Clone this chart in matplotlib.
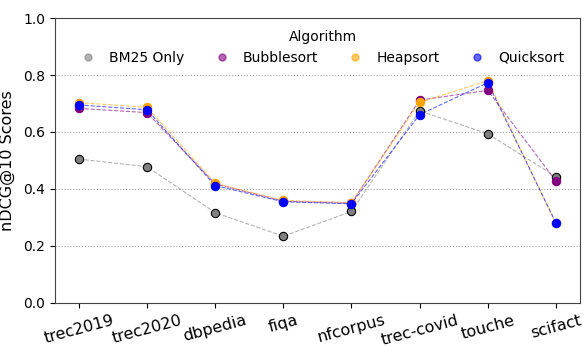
import matplotlib.pyplot as plt
from matplotlib.lines import Line2D

datasets = ['trec2019', 'trec2020', 'dbpedia', 'fiqa', 'nfcorpus', 'trec-covid', 'touche', 'scifact']
bm25 = [0.505, 0.478, 0.317, 0.234, 0.321, 0.674, 0.594, 0.443]
bubblesort = [0.683, 0.668, 0.418, 0.357, 0.350, 0.712, 0.746, 0.428]
heapsort = [0.703, 0.687, 0.420, 0.360, 0.352, 0.704, 0.780, 0.280]
quicksort = [0.695, 0.678, 0.412, 0.355, 0.348, 0.661, 0.773, 0.281]

series = [
    ('BM25 Only', bm25, 'gray'),
    ('Bubblesort', bubblesort, 'purple'),
    ('Heapsort', heapsort, 'orange'),
    ('Quicksort', quicksort, 'blue'),
]

fig, ax = plt.subplots(figsize=(5.85, 3.47), dpi=100)
x = range(len(datasets))

handles = []
for name, vals, color in series:
    ax.plot(x, vals, linestyle='--', color=color, alpha=0.6, linewidth=0.8, zorder=2)
    edge = 'black' if name == 'BM25 Only' else color
    ax.scatter(x, vals, color=color, edgecolor=edge, s=36, linewidth=0.8, zorder=3)
    handles.append(Line2D([], [], marker='o', linestyle='', color=color, alpha=0.6,
                          markersize=5, label=name))

ax.set_xticks(list(x))
ax.set_xticklabels(datasets, rotation=15, fontsize=11.5)
ax.set_ylim(0, 1.0)
ax.set_xlim(-0.35, 7.35)
ax.set_yticks([0, 0.2, 0.4, 0.6, 0.8, 1.0])
ax.tick_params(axis='y', labelsize=10)
ax.set_ylabel('nDCG@10 Scores', fontsize=11.5, labelpad=6)
ax.yaxis.grid(True, linestyle=':', color='gray', alpha=0.7)
ax.set_axisbelow(True)
for s in ax.spines.values():
    s.set_color('#444444')

ax.legend(handles=handles, title='Algorithm', ncol=4, loc='upper center',
          frameon=False, fontsize=10, title_fontsize=10, bbox_to_anchor=(0.51, 1.003),
          handlelength=1.0, handletextpad=1.0, columnspacing=2.2)

plt.subplots_adjust(left=0.094, right=0.991, top=0.948, bottom=0.127)
plt.savefig('out.png')
